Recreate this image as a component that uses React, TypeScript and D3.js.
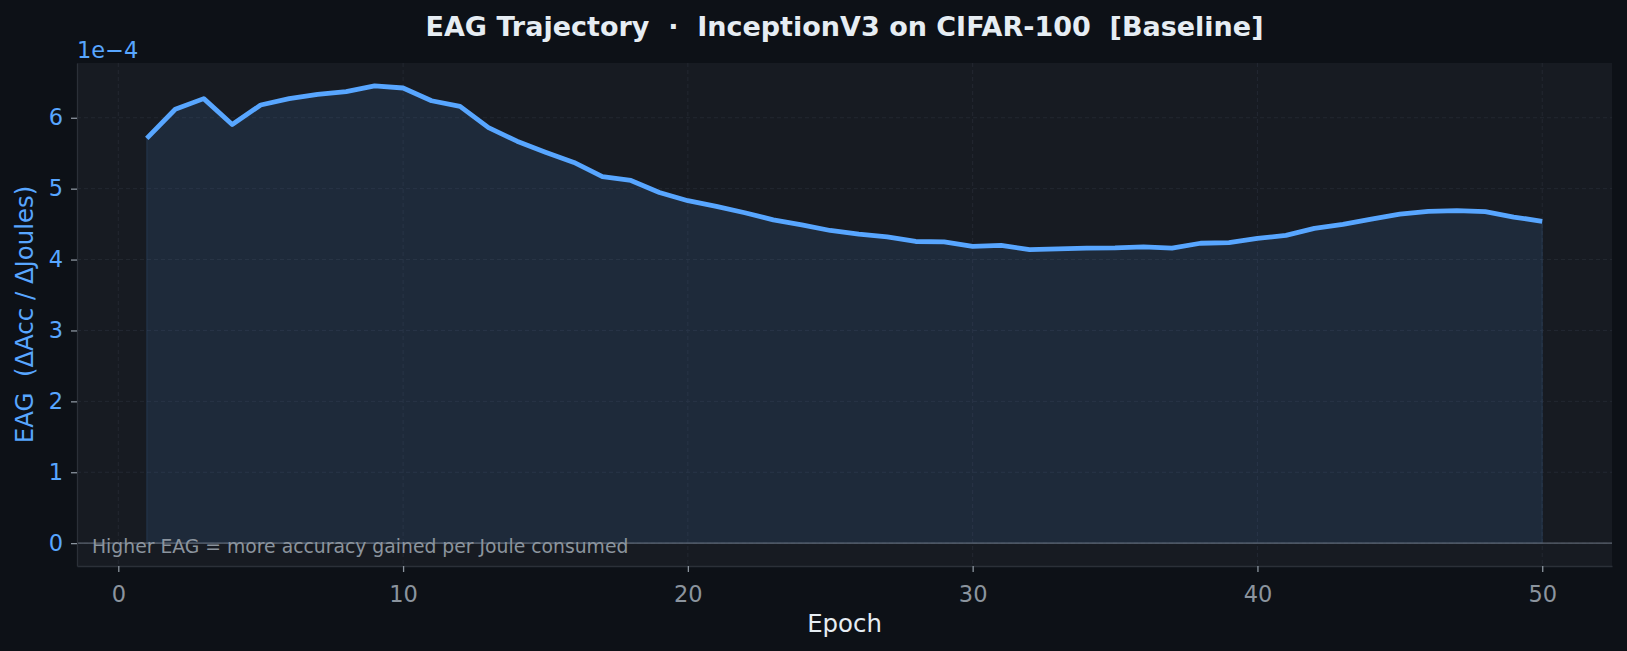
import { useEffect, useRef } from "react";
import * as d3 from "d3";

// EAG per epoch, in units of 1e-4
const epochs: number[] = d3.range(1, 51);
const eag: number[] = [
  5.71, 6.12, 6.27, 5.905, 6.18, 6.27, 6.33, 6.37, 6.45, 6.42,
  6.24, 6.16, 5.86, 5.67, 5.515, 5.37, 5.17, 5.116, 4.946, 4.83,
  4.75, 4.66, 4.56, 4.49, 4.41, 4.36, 4.32, 4.255, 4.25, 4.185,
  4.2, 4.14, 4.15, 4.16, 4.165, 4.18, 4.16, 4.23, 4.24, 4.3,
  4.34, 4.44, 4.495, 4.57, 4.64, 4.68, 4.69, 4.675, 4.6, 4.54,
];
const xTicks: number[] = [0, 10, 20, 30, 40, 50];
const yTicks: number[] = [0, 1, 2, 3, 4, 5, 6];

const titleText = "EAG Trajectory \u00a0\u00b7\u00a0 InceptionV3 on CIFAR-100 \u00a0[Baseline]";
const yLabelText = "EAG \u00a0(\u0394Acc / \u0394Joules)";
const noteText = "Higher EAG = more accuracy gained per Joule consumed";

export default function App() {
  const svgRef = useRef<SVGSVGElement>(null);

  useEffect(() => {
    if (!svgRef.current) return;
    document.body.style.margin = "0";
    document.body.style.background = "#0d1117";

    const W = 1627, H = 651;
    const margin = { top: 63, right: 15, bottom: 85, left: 77 };
    const width = W - margin.left - margin.right;
    const height = H - margin.top - margin.bottom;
    const font = "DejaVu Sans, sans-serif";

    const svg = d3.select(svgRef.current);
    svg.selectAll("*").remove();
    svg.attr("width", W).attr("height", H).style("display", "block");

    svg.append("rect").attr("width", W).attr("height", H).attr("fill", "#0d1117");

    const g = svg.append("g").attr("transform", `translate(${margin.left},${margin.top})`);

    const xScale = d3.scaleLinear().domain([-1.45, 52.45]).range([0, width]);
    const yMax = d3.max(eag)!;
    const pad = yMax * 0.05;
    const yScale = d3.scaleLinear().domain([-pad, yMax + pad]).range([height, 0]);

    g.append("rect").attr("width", width).attr("height", height).attr("fill", "#171b22");

    // grid
    g.append("g")
      .selectAll("line")
      .data(xTicks)
      .enter()
      .append("line")
      .attr("x1", d => xScale(d)).attr("x2", d => xScale(d))
      .attr("y1", 0).attr("y2", height)
      .attr("stroke", "#232831").attr("stroke-width", 1)
      .attr("stroke-dasharray", "4,3");
    g.append("g")
      .selectAll("line")
      .data(yTicks)
      .enter()
      .append("line")
      .attr("x1", 0).attr("x2", width)
      .attr("y1", d => yScale(d)).attr("y2", d => yScale(d))
      .attr("stroke", "#232831").attr("stroke-width", 1)
      .attr("stroke-dasharray", "4,3");

    const pts = epochs.map((e, i) => ({ e, v: eag[i] }));

    const area = d3.area<{ e: number; v: number }>()
      .x(d => xScale(d.e))
      .y0(yScale(0))
      .y1(d => yScale(d.v));
    g.append("path")
      .datum(pts)
      .attr("d", area)
      .attr("fill", "#58a6ff")
      .attr("fill-opacity", 0.11)
      .attr("stroke", "#58a6ff")
      .attr("stroke-opacity", 0.12)
      .attr("stroke-width", 1.2);

    g.append("line")
      .attr("x1", 0).attr("x2", width)
      .attr("y1", yScale(0)).attr("y2", yScale(0))
      .attr("stroke", "#5d6570").attr("stroke-width", 1.4);

    const line = d3.line<{ e: number; v: number }>()
      .x(d => xScale(d.e))
      .y(d => yScale(d.v));
    g.append("path")
      .datum(pts)
      .attr("d", line)
      .attr("fill", "none")
      .attr("stroke", "#58a6ff")
      .attr("stroke-width", 4.8)
      .attr("stroke-linejoin", "round");

    // axes
    const gx = g.append("g")
      .attr("transform", `translate(0,${height})`)
      .call(d3.axisBottom(xScale).tickValues(xTicks).tickSize(6).tickPadding(14).tickSizeOuter(0));
    gx.select(".domain").attr("stroke", "#2b3038").attr("stroke-width", 1.3);
    gx.selectAll(".tick line").attr("stroke", "#8b949e").attr("stroke-width", 1.3);
    gx.selectAll("text")
      .attr("fill", "#8b949e")
      .attr("font-size", 22.5)
      .attr("font-family", font);

    const gy = g.append("g")
      .call(d3.axisLeft(yScale).tickValues(yTicks).tickSize(6).tickPadding(8).tickSizeOuter(0));
    gy.select(".domain").attr("stroke", "#2b3038").attr("stroke-width", 1.3);
    gy.selectAll(".tick line").attr("stroke", "#8b949e").attr("stroke-width", 1.3);
    gy.selectAll("text")
      .attr("fill", "#58a6ff")
      .attr("font-size", 22.5)
      .attr("font-family", font);

    // labels
    svg.append("text")
      .attr("x", margin.left + width / 2)
      .attr("y", 36)
      .attr("text-anchor", "middle")
      .attr("fill", "#e6edf3")
      .attr("font-size", 27)
      .attr("font-weight", "bold")
      .attr("font-family", font)
      .text(titleText);

    svg.append("text")
      .attr("x", margin.left)
      .attr("y", 58)
      .attr("fill", "#58a6ff")
      .attr("font-size", 22.5)
      .attr("font-family", font)
      .text("1e\u22124");

    svg.append("text")
      .attr("x", margin.left + width / 2)
      .attr("y", 632)
      .attr("text-anchor", "middle")
      .attr("fill", "#e6edf3")
      .attr("font-size", 24.4)
      .attr("font-family", font)
      .text("Epoch");

    svg.append("text")
      .attr("transform", `translate(33,${margin.top + height / 2}) rotate(-90)`)
      .attr("text-anchor", "middle")
      .attr("fill", "#58a6ff")
      .attr("font-size", 24.4)
      .attr("font-family", font)
      .text(yLabelText);

    g.append("text")
      .attr("x", 15)
      .attr("y", yScale(0) + 10)
      .attr("fill", "#8b949e")
      .attr("font-size", 18.8)
      .attr("font-family", font)
      .text(noteText);
  }, []);

  return (
    <div>
      <svg ref={svgRef}></svg>
    </div>
  );
}
